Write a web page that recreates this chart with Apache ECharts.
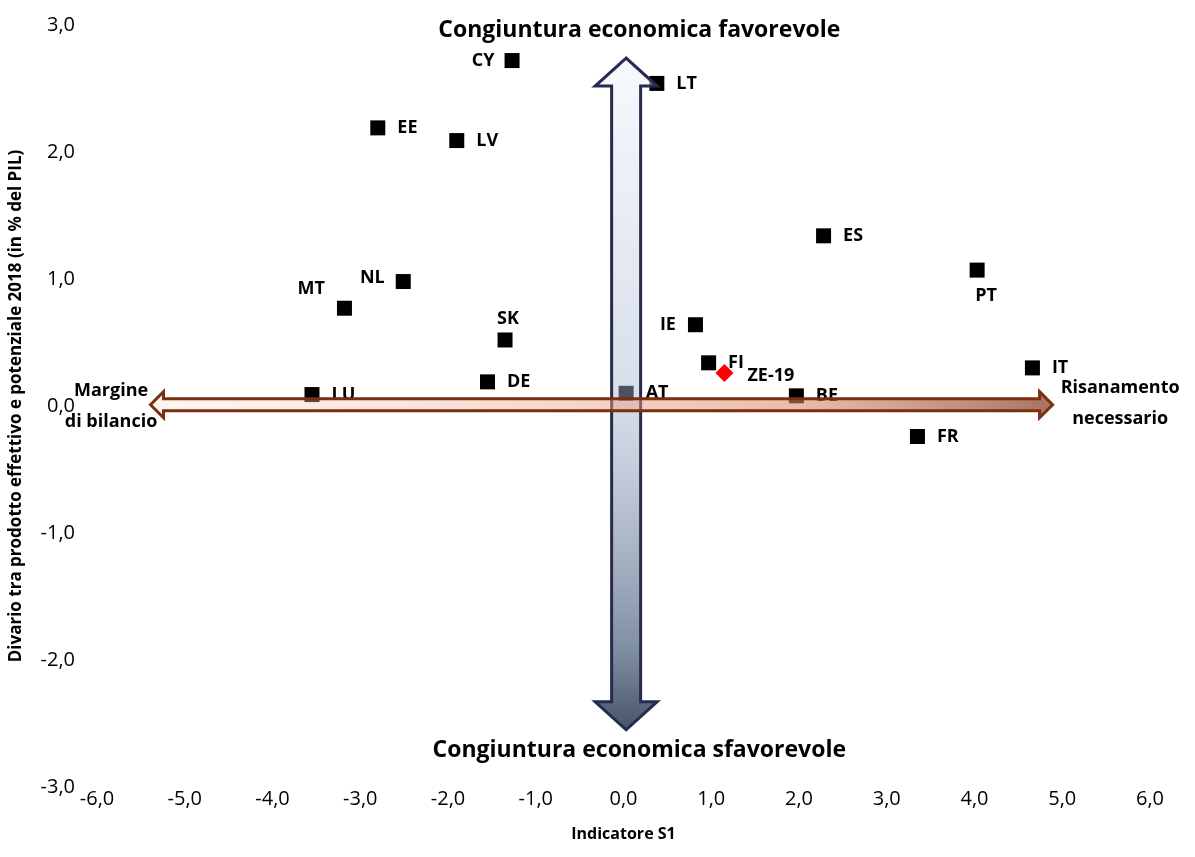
<!DOCTYPE html>
<html>
<head>
<meta charset="utf-8">
<script src="https://cdn.jsdelivr.net/npm/echarts@6/dist/echarts.min.js"></script>
<style>
html,body{margin:0;padding:0;background:#fff;}
#chart{width:1195px;height:857px;}
</style>
</head>
<body>
<div id="chart"></div>
<script>
// ---- data ----
const countries   = ['CY','LT','EE','LV','ES','PT','NL','MT','SK','IE','FI','IT','DE','LU','AT','BE','FR'];
const s1Indicator = [-1.27, 0.38, -2.80, -1.90, 2.28, 4.03, -2.51, -3.18, -1.35, 0.82, 0.97, 4.66, -1.55, -3.55, 0.03, 1.97, 3.35];
const outputGap   = [ 2.72, 2.54,  2.19,  2.09, 1.34, 1.07,  0.98,  0.77,  0.52, 0.64, 0.34, 0.30,  0.19,  0.09, 0.10, 0.08, -0.24];
const aggregateName = ['ZE-19'];
const aggregateS1   = [1.15];
const aggregateGap  = [0.26];
const xTicks = [-6,-5,-4,-3,-2,-1,0,1,2,3,4,5,6];
const yTicks = [-3,-2,-1,0,1,2,3];
// annotation arrows: [x1, y1, x2, y2]
const arrowVertical   = [0.03, 2.74, 0.03, -2.55];
const arrowHorizontal = [-5.39, 0.01, 4.89, 0.01];
// annotation texts: [x, y, text]
const annotations = [
  [0.18, 2.96, 'Congiuntura economica favorevole'],
  [0.18, -2.71, 'Congiuntura economica sfavorevole'],
  [-5.84, 0.0, 'Margine\ndi bilancio'],
  [5.66, 0.02, 'Risanamento\nnecessario']
];

// ---- label styling (not data) ----
const labelPlacement = {
  CY: {position:'left', distance:10},
  NL: {position:'left', distance:11, offset:[0,-4]},
  MT: {position:'left', distance:12, offset:[0,-19]},
  SK: {position:'top', distance:5, offset:[3,0]},
  IE: {position:'left', distance:12},
  PT: {position:'bottom', distance:9, offset:[9,0]}
};
const FONT = '"Open Sans", "Liberation Sans", sans-serif';
const fmt = v => v.toFixed(1).replace('.', ',');

const chart = echarts.init(document.getElementById('chart'), null, {renderer:'canvas'});

const countryData = countries.map((c, i) => {
  const p = labelPlacement[c] || {position:'right', distance:12};
  return {
    name: c,
    value: [s1Indicator[i], outputGap[i]],
    label: Object.assign({show:true, formatter:c}, p)
  };
});
const aggData = aggregateName.map((n, i) => ({
  name: n, value: [aggregateS1[i], aggregateGap[i]],
  label: {show:true, formatter:n, position:'right', distance:14, offset:[0,3]}
}));

function arrowPoints(p1, p2, s, h, L) {
  const dx = p2[0]-p1[0], dy = p2[1]-p1[1];
  const len = Math.sqrt(dx*dx+dy*dy);
  const ux = dx/len, uy = dy/len, nx = -uy, ny = ux;
  const P = (base, a, b) => [base[0]+ux*a+nx*b, base[1]+uy*a+ny*b];
  return [
    p1, P(p1, L, h), P(p1, L, s), P(p2, -L, s), P(p2, -L, h),
    p2, P(p2, -L, -h), P(p2, -L, -s), P(p1, L, -s), P(p1, L, -h)
  ];
}

const vGrad = new echarts.graphic.LinearGradient(0,0,0,1,[
  {offset:0, color:'rgba(240,244,252,0.5)'},
  {offset:0.5, color:'rgba(169,184,208,0.45)'},
  {offset:0.87, color:'rgba(100,118,142,0.8)'},
  {offset:1, color:'rgba(60,72,92,0.95)'}
]);
const hGrad = new echarts.graphic.LinearGradient(0,0,1,0,[
  {offset:0, color:'rgba(255,222,205,0.3)'},
  {offset:0.45, color:'rgba(240,167,137,0.45)'},
  {offset:0.72, color:'rgba(219,137,100,0.58)'},
  {offset:1, color:'rgba(142,80,55,0.8)'}
]);

const labelStyle = {fontFamily:FONT, fontSize:18, fontWeight:'bold', color:'#000', opacity:1};

const option = {
  backgroundColor: '#fff',
  animation: false,
  grid: {left:94, right:45, top:25, bottom:70, containLabel:false},
  xAxis: {
    type:'value', min:-6, max:6, interval:1,
    axisLine:{show:false}, axisTick:{show:false}, splitLine:{show:false},
    axisLabel:{formatter:fmt, fontFamily:FONT, fontSize:20, color:'#000', margin:2},
    name:'Indicatore S1', nameLocation:'middle', nameGap:39,
    nameTextStyle:{fontFamily:FONT, fontSize:16, fontWeight:'bold', color:'#000'}
  },
  yAxis: {
    type:'value', min:-3, max:3, interval:1,
    axisLine:{show:false}, axisTick:{show:false}, splitLine:{show:false},
    axisLabel:{formatter:fmt, fontFamily:FONT, fontSize:20, color:'#000', margin:22},
    name:'Divario tra prodotto effettivo e potenziale 2018 (in % del PIL)',
    nameLocation:'middle', nameGap:72, nameRotate:90,
    nameTextStyle:{fontFamily:FONT, fontSize:17, fontWeight:'bold', color:'#000'}
  },
  series: [
    {
      type:'scatter', name:'Paesi', symbol:'rect', symbolSize:15, z:2,
      itemStyle:{color:'#000', opacity:1},
      label:labelStyle,
      emphasis:{disabled:true},
      data: countryData
    },
    {
      type:'scatter', name:'ZE-19', symbol:'diamond', symbolSize:18, z:2,
      itemStyle:{color:'#FF0000', opacity:1},
      label:labelStyle,
      emphasis:{disabled:true},
      data: aggData
    },
    {
      type:'custom', name:'arrows', z:5, silent:true,
      encode:{x:[0,2], y:[1,3]},
      data:[arrowVertical, arrowHorizontal],
      renderItem: function(params, api) {
        const p1 = api.coord([api.value(0), api.value(1)]);
        const p2 = api.coord([api.value(2), api.value(3)]);
        const vertical = params.dataIndex === 0;
        const pts = vertical ? arrowPoints(p1, p2, 14.5, 31, 28) : arrowPoints(p1, p2, 6, 13, 13);
        return {
          type:'polygon', z2: vertical ? 1 : 2,
          shape:{points: pts},
          style:{
            fill: vertical ? vGrad : hGrad,
            stroke: vertical ? '#262B52' : '#7A2E12',
            lineWidth: 3, lineJoin:'miter'
          }
        };
      }
    },
    {
      type:'custom', name:'annotations', z:6, silent:true,
      encode:{x:0, y:1},
      data: annotations,
      renderItem: function(params, api) {
        const a = annotations[params.dataIndex];
        const p = api.coord([a[0], a[1]]);
        const big = params.dataIndex < 2;
        return {
          type:'text',
          style:{
            text: a[2], x:p[0], y:p[1], align:'center', verticalAlign:'middle',
            font: 'bold ' + (big ? 23 : 18) + 'px ' + FONT,
            fill:'#000', lineHeight: big ? 28 : 31
          }
        };
      }
    }
  ]
};
chart.setOption(option);
</script>
</body>
</html>
